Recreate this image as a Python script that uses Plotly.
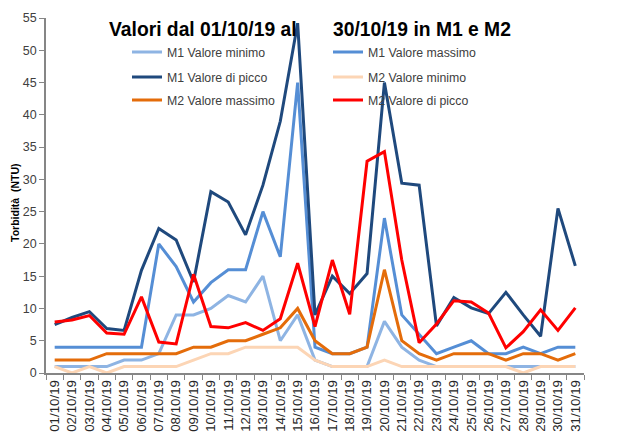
import plotly.graph_objects as go

days = ["%02d/10/19" % d for d in range(1, 32)]

m1_min = [1, 1, 1, 1, 2, 2, 3, 9, 9, 10, 12, 11, 15, 5, 9, 2, 1, 1, 1, 8, 4, 2, 1, 1, 1, 1, 1, 1, 1, 1, 1]
m1_max = [4, 4, 4, 4, 4, 4, 20, 16.5, 11, 14, 16, 16, 25, 18, 45, 4, 3, 3, 4, 24, 9, 6, 3, 4, 5, 3, 3, 4, 3, 4, 4]
m1_peak = [7.5, 8.6, 9.5, 6.9, 6.6, 15.9, 22.4, 20.6, 14.1, 28.1, 26.5, 21.4, 29.1, 39, 54.2, 9, 15, 12.3, 15.4, 45,
           29.4, 29.1, 7.3, 11.7, 10.1, 9.2, 12.5, 9, 5.7, 25.5, 16.6]
m2_min = [1, 0, 1, 0, 1, 1, 1, 1, 2, 3, 3, 4, 4, 4, 4, 2, 1, 1, 1, 2, 1, 1, 1, 1, 1, 1, 1, 0, 1, 1, 1]
m2_max = [2, 2, 2, 3, 3, 3, 3, 3, 4, 4, 5, 5, 6, 7, 10, 5, 3, 3, 4, 16, 5, 3, 2, 3, 3, 3, 2, 3, 3, 2, 3]
m2_peak = [7.9, 8.2, 8.9, 6.2, 6.0, 11.8, 4.8, 4.5, 15.3, 7.2, 7.0, 7.8, 6.6, 8.4, 17, 7.2, 17.5, 9.1, 32.8, 34.3,
           17.5, 4.7, 7.6, 11.2, 11, 9.3, 3.9, 6.4, 9.8, 6.6, 10.1]

series = [
    ("M1 Valore minimo", m1_min, "#8EB4E3", "legend"),
    ("M1 Valore massimo", m1_max, "#558ED5", "legend"),
    ("M1 Valore di picco", m1_peak, "#1F497D", "legend2"),
    ("M2 Valore minimo", m2_min, "#FCD5B5", "legend2"),
    ("M2 Valore massimo", m2_max, "#E46C0A", "legend3"),
    ("M2 Valore di picco", m2_peak, "#FF0000", "legend3"),
]

FONT = "Liberation Sans"
OFF = 8  # page body margin
W, H = 627 - OFF, 444 - OFF
ML, MR, MT, MB = 46 - OFF, 43, 18 - OFF, 71
PW, PH = W - ML - MR, H - MT - MB

fig = go.Figure()
for name, vals, col, lg in series:
    fig.add_trace(go.Scatter(x=days, y=vals, mode="lines", name=name,
                             line=dict(color=col, width=3), legend=lg))

def px2x(px):
    return (px - OFF - ML) / PW

def py2y(py):
    return (H - MB - (py - OFF)) / PH

def leg(py):
    return dict(orientation="h", x=px2x(127), xanchor="left", y=py2y(py), yanchor="middle",
                bgcolor="rgba(0,0,0,0)", font=dict(family=FONT, size=12.3, color="#404040"),
                entrywidth=156, entrywidthmode="pixels", tracegroupgap=0)

fig.update_layout(
    width=W, height=H,
    margin=dict(l=ML, r=MR, t=MT, b=MB),
    paper_bgcolor="white", plot_bgcolor="white",
    showlegend=True,
    legend=leg(52), legend2=leg(77), legend3=leg(100),
    font=dict(family=FONT, color="#404040"),
    xaxis=dict(type="category", range=[-0.5, 30.5], tickson="boundaries", ticks="outside",
               ticklen=5, tickcolor="#868686", showline=True, linecolor="#868686", linewidth=1.5,
               tickangle=-90, tickfont=dict(family=FONT, size=13.3, color="#262626"),
               showgrid=False, zeroline=False, automargin=False),
    yaxis=dict(range=[0, 55], dtick=5, ticks="outside", ticklen=5, tickcolor="#868686",
               showline=True, linecolor="#868686", linewidth=1.5,
               tickfont=dict(family=FONT, size=12.5, color="#404040"),
               showgrid=False, zeroline=False, automargin=False),
    annotations=[
        dict(text="Valori dal 01/10/19 al",
             xref="paper", yref="paper", x=px2x(107), y=py2y(30), xanchor="left", yanchor="middle",
             showarrow=False, font=dict(family=FONT, size=19.3, color="black", weight="bold")),
        dict(text="30/10/19 in M1 e M2",
             xref="paper", yref="paper", x=px2x(331), y=py2y(30), xanchor="left", yanchor="middle",
             showarrow=False, font=dict(family=FONT, size=19.3, color="black", weight="bold")),
        dict(text="Torbidità\u00a0\u00a0(NTU)", textangle=-90,
             xref="paper", yref="paper", x=px2x(15), y=py2y(203), xanchor="center", yanchor="middle",
             showarrow=False, font=dict(family=FONT, size=10.5, color="black", weight="bold")),
    ],
    shapes=[
        dict(type="line", xref="paper", yref="paper", x0=px2x(625), x1=px2x(625), y0=py2y(8), y1=py2y(450),
             line=dict(color="#8C8C8C", width=1.5)),
    ],
)

fig.write_html("out.html")
